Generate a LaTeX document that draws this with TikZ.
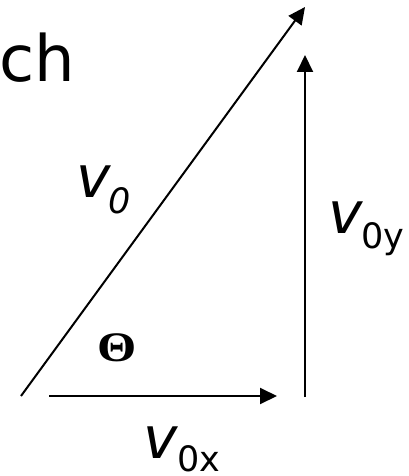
\documentclass[tikz,border=0pt]{standalone}
\usepackage{fontspec}
\setmainfont{DejaVu Sans}
\newfontfamily\serifgreek{Liberation Serif}
\usetikzlibrary{arrows.meta}
\tikzset{
  vec/.style={line width=2pt,-{Triangle[length=17pt,width=16pt]}},
  lbl/.style={inner sep=0pt,anchor=base west},
}
\newcommand{\bigv}{\fontsize{58}{58}\selectfont\itshape}
\newcommand{\subup}{\fontsize{35}{35}\selectfont}
\begin{document}
\begin{tikzpicture}[x=1pt,y=-1pt]
\fill[white] (0,0) rectangle (408,476);
\useasboundingbox (0,0) rectangle (408,476);
\node[lbl] (title) at (-1,82) {\fontsize{64}{64}\selectfont ch};
\coordinate (d0) at (21,396);
\coordinate (d1) at (305,7);
\coordinate (y0) at (305,397);
\coordinate (y1) at (305,55);
\coordinate (x0) at (49,396);
\coordinate (x1) at (277,396);
\draw[vec] (d0) -- (d1);
\draw[vec] (y0) -- (y1);
\draw[vec] (x0) -- (x1);
\node[lbl] (v0) at (76,197) {\bigv v};
\node[lbl] (v0s) at (108,213) {\subup\itshape 0};
\node[lbl] (vy) at (328,233) {\bigv v};
\node[lbl] (vys) at (361,248) {\subup 0y};
\node[lbl] (vx) at (143,458) {\bigv v};
\node[lbl] (vxs) at (177,471) {\subup 0x};
\node[lbl] (theta) at (97,361) {\fontsize{42}{42}\selectfont\serifgreek\bfseries\scalebox{1.2}[1]{Θ}};
\end{tikzpicture}
\end{document}
